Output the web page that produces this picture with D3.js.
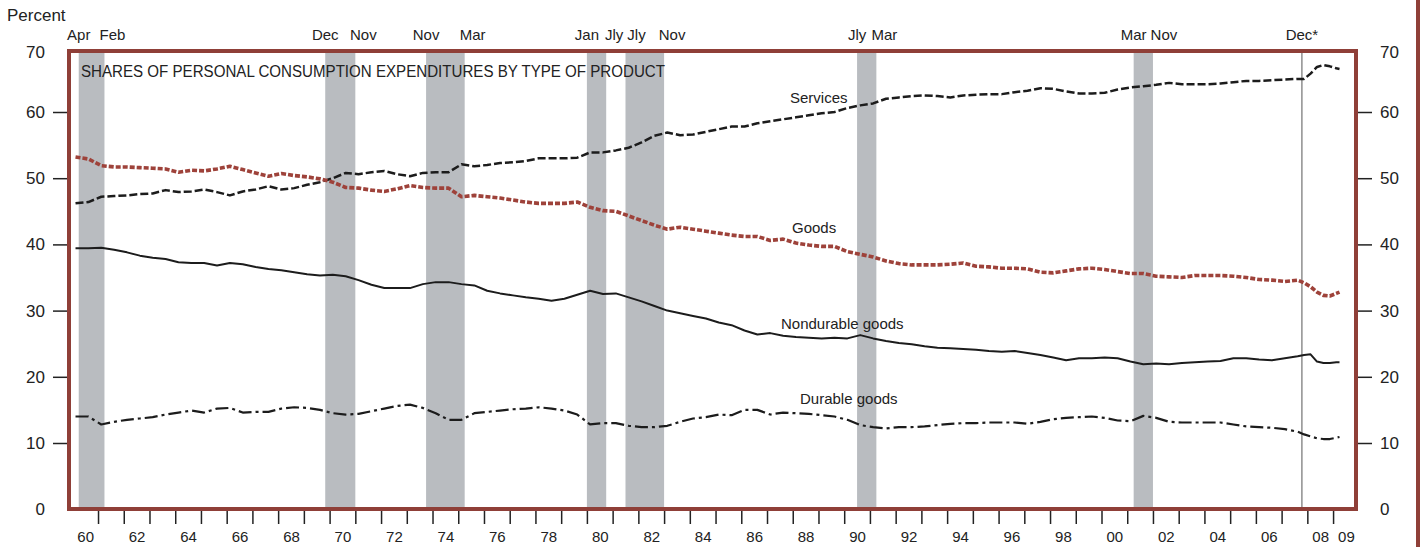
<!DOCTYPE html>
<html>
<head>
<meta charset="utf-8">
<script src="https://cdn.jsdelivr.net/npm/d3@7"></script>
<style>
  body { margin: 0; background: #fff; }
  text { font-family: "Liberation Sans", Arial, sans-serif; fill: #222; }
</style>
</head>
<body>
<script>
// half-year points 1960-2007, then quarterly to 2009
var dates = d3.range(1960.125, 2007.7, 0.5).concat([2007.875, 2008.125, 2008.375, 2008.625, 2008.875, 2009.125, 2009.25]);

var services = [
  46.2, 46.4, 47.2, 47.3, 47.4, 47.6, 47.7, 48.2, 47.9, 48.0,
  48.3, 47.9, 47.4, 48.0, 48.3, 48.8, 48.3, 48.5, 49.0, 49.4,
  50.0, 50.8, 50.6, 50.9, 51.1, 50.6, 50.3, 50.8, 50.9, 50.9,
  52.1, 51.8, 52.0, 52.3, 52.4, 52.6, 53.0, 53.0, 53.0, 53.1,
  53.9, 53.9, 54.2, 54.6, 55.4, 56.4, 56.9, 56.5, 56.6, 57.0,
  57.4, 57.8, 57.8, 58.3, 58.6, 58.9, 59.2, 59.5, 59.8, 60.0,
  60.6, 61.0, 61.3, 62.0, 62.2, 62.4, 62.5, 62.4, 62.2, 62.5,
  62.6, 62.7, 62.7, 63.0, 63.2, 63.6, 63.5, 63.1, 62.8, 62.8,
  62.9, 63.4, 63.7, 63.9, 64.1, 64.4, 64.2, 64.2, 64.2, 64.3,
  64.5, 64.7, 64.7, 64.8, 64.9, 65.0,
  65.0, 65.8, 66.8, 67.1, 66.9, 66.6, 66.5];

var goods = [
  53.2, 52.9, 51.9, 51.7, 51.7, 51.6, 51.5, 51.4, 50.9, 51.2,
  51.1, 51.4, 51.8, 51.3, 50.8, 50.3, 50.7, 50.4, 50.2, 49.9,
  49.4, 48.6, 48.5, 48.2, 48.0, 48.4, 48.9, 48.6, 48.5, 48.5,
  47.2, 47.4, 47.2, 47.0, 46.7, 46.4, 46.2, 46.2, 46.2, 46.4,
  45.6, 45.1, 45.0, 44.3, 43.6, 42.9, 42.3, 42.6, 42.3, 42.0,
  41.7, 41.4, 41.2, 41.2, 40.6, 40.8, 40.2, 39.9, 39.7, 39.7,
  38.9, 38.5, 38.1, 37.5, 37.1, 36.9, 36.9, 36.9, 37.0, 37.2,
  36.7, 36.6, 36.4, 36.4, 36.3, 35.8, 35.7, 36.0, 36.3, 36.4,
  36.2, 35.9, 35.6, 35.6, 35.2, 35.1, 35.0, 35.3, 35.3, 35.3,
  35.2, 35.0, 34.7, 34.6, 34.4, 34.6,
  34.2, 33.6, 32.8, 32.3, 32.2, 32.6, 32.8];

var nondurable = [
  39.4, 39.4, 39.5, 39.2, 38.8, 38.3, 38.0, 37.8, 37.3, 37.2,
  37.2, 36.8, 37.2, 37.0, 36.6, 36.3, 36.1, 35.8, 35.5, 35.3,
  35.4, 35.2, 34.6, 33.9, 33.4, 33.4, 33.4, 34.0, 34.3, 34.3,
  34.0, 33.8, 33.0, 32.6, 32.3, 32.0, 31.8, 31.5, 31.8, 32.4,
  33.0, 32.5, 32.6, 32.0, 31.4, 30.7, 30.0, 29.6, 29.2, 28.8,
  28.2, 27.8, 27.0, 26.4, 26.6, 26.2, 26.0, 25.9, 25.8, 25.9,
  25.8, 26.3, 25.8, 25.4, 25.1, 24.9, 24.6, 24.4, 24.3, 24.2,
  24.1, 23.9, 23.8, 23.9, 23.6, 23.3, 22.9, 22.5, 22.8, 22.8,
  22.9, 22.8, 22.3, 21.9, 22.0, 21.9, 22.1, 22.2, 22.3, 22.4,
  22.8, 22.8, 22.6, 22.5, 22.8, 23.1,
  23.3, 23.4, 22.3, 22.1, 22.1, 22.2, 22.2];

var durable = [
  14.0, 14.0, 12.8, 13.2, 13.5, 13.7, 13.9, 14.3, 14.6, 14.9,
  14.6, 15.2, 15.3, 14.6, 14.7, 14.7, 15.2, 15.4, 15.3, 15.0,
  14.5, 14.3, 14.4, 14.8, 15.2, 15.6, 15.8, 15.3, 14.5, 13.5,
  13.5, 14.5, 14.7, 14.9, 15.1, 15.2, 15.4, 15.2, 14.9, 14.3,
  12.8, 13.0, 13.0, 12.6, 12.4, 12.4, 12.6, 13.2, 13.7, 13.9,
  14.3, 14.2, 15.0, 15.0, 14.3, 14.6, 14.5, 14.4, 14.2, 14.0,
  13.5, 12.7, 12.4, 12.2, 12.4, 12.4, 12.5, 12.7, 12.9, 13.0,
  13.0, 13.1, 13.1, 13.1, 12.9, 13.2, 13.6, 13.8, 13.9, 14.0,
  13.8, 13.4, 13.3, 14.1, 13.8, 13.2, 13.1, 13.1, 13.1, 13.1,
  12.8, 12.5, 12.4, 12.3, 12.1, 11.7,
  11.3, 11.0, 10.7, 10.6, 10.6, 10.8, 10.9];

// recessions (shaded)
var recStart = [1960.25, 1969.83, 1973.75, 1980.0, 1981.5, 1990.5, 2001.25];
var recEnd = [1961.25, 1971.0, 1975.25, 1980.75, 1983.0, 1991.25, 2002.0];
var recStartLabel = ["Apr", "Dec", "Nov", "Jan", "Jly", "Jly", "Mar"];
var recEndLabel = ["Feb", "Nov", "Mar", "Jly", "Nov", "Mar", "Nov"];
var peakDate = 2007.79;

var yTicks = [0, 10, 20, 30, 40, 50, 60, 70];
var xTickYears = d3.range(1961, 2010);
var xLabelYears = [1960, 1962, 1964, 1966, 1968, 1970, 1972, 1974, 1976, 1978, 1980, 1982, 1984,
  1986, 1988, 1990, 1992, 1994, 1996, 1998, 2000, 2002, 2004, 2006, 2008, 2009];

var width = 1427, height = 547;
var frame = { left: 69, right: 1356, top: 51, bottom: 509 };
var brown = "#8f3f38";

var x = d3.scaleLinear().domain([1960, 2010]).range([72.3, 1358.8]);
var y = d3.scaleLinear().domain([0, 70]).range([509.2, 45.8]);

var svg = d3.select("body").append("svg").attr("width", width).attr("height", height);

// recession bars
var bars = svg.append("g");
var monthLabels = [];
recStart.forEach(function (s, i) {
  bars.append("rect")
    .attr("x", x(s)).attr("y", frame.top)
    .attr("width", x(recEnd[i]) - x(s)).attr("height", frame.bottom - frame.top)
    .attr("fill", "#b9bcc0");
  monthLabels.push({ t: recStartLabel[i], cx: x(s) });
  monthLabels.push({ t: recEndLabel[i], cx: x(recEnd[i]) + 8 });
});

// month labels: centred on the bar edge, then pushed apart left to right
var ml = bars.selectAll(".ml").data(monthLabels).enter().append("text")
  .attr("y", 40).style("font-size", "15px").text(function (d) { return d.t; });
var lastRight = -Infinity;
ml.each(function (d) {
  var w = this.getComputedTextLength();
  var left = Math.max(d.cx - w / 2, lastRight + 4);
  d3.select(this).attr("x", left);
  lastRight = left + w;
});

svg.append("line")
  .attr("x1", x(peakDate)).attr("x2", x(peakDate))
  .attr("y1", frame.top).attr("y2", frame.bottom)
  .attr("stroke", "#555").attr("stroke-width", 1);
svg.append("text").attr("x", x(peakDate)).attr("y", 40)
  .attr("text-anchor", "middle").style("font-size", "15px").text("Dec*");

// series
var line = d3.line()
  .x(function (d, i) { return x(dates[i]); })
  .y(function (d) { return y(d); });

var series = [
  { v: services, color: "#1c1c1c", w: 2.5, dash: "8,3" },
  { v: goods, color: "#9e423a", w: 3.6, dash: "5,2" },
  { v: nondurable, color: "#1c1c1c", w: 2, dash: null },
  { v: durable, color: "#1c1c1c", w: 2.2, dash: "13,4,3,4" }
];
series.forEach(function (s) {
  svg.append("path").attr("d", line(s.v))
    .attr("fill", "none").attr("stroke", s.color)
    .attr("stroke-width", s.w).attr("stroke-linejoin", "round")
    .attr("stroke-dasharray", s.dash);
});

// series labels
var labels = [
  { t: "Services", x: 790, y: 103 },
  { t: "Goods", x: 792, y: 233 },
  { t: "Nondurable goods", x: 781, y: 329 },
  { t: "Durable goods", x: 800, y: 404 }
];
svg.selectAll(".slab").data(labels).enter().append("text")
  .attr("x", function (d) { return d.x; }).attr("y", function (d) { return d.y; })
  .style("font-size", "15px").text(function (d) { return d.t; });

svg.append("text").attr("x", 81).attr("y", 77)
  .attr("textLength", 584).attr("lengthAdjust", "spacingAndGlyphs")
  .style("font-size", "16px")
  .text("SHARES OF PERSONAL CONSUMPTION EXPENDITURES BY TYPE OF PRODUCT");

// frame
svg.append("rect")
  .attr("x", frame.left).attr("y", frame.top)
  .attr("width", frame.right - frame.left).attr("height", frame.bottom - frame.top)
  .attr("fill", "none").attr("stroke", brown).attr("stroke-width", 4);
svg.append("line").attr("x1", 1418).attr("x2", 1418).attr("y1", 0).attr("y2", height)
  .attr("stroke", brown).attr("stroke-width", 4);

// y axes
function styleAxis(g) {
  g.select(".domain").remove();
  g.selectAll(".tick line").attr("stroke", "#222").attr("stroke-width", 1.5);
  g.selectAll(".tick text").style("font-size", "17px").attr("fill", "#222");
  g.selectAll(".tick").filter(function (d) { return d === 0 || d === 70; })
    .select("line").remove();
  g.selectAll(".tick").filter(function (d) { return d === 70; })
    .select("text").attr("dy", "0.7em");
}

var yAxisL = d3.axisLeft(y).tickValues(yTicks).tickSize(14).tickPadding(8);
svg.append("g").attr("transform", "translate(" + (frame.left - 2) + ",0)")
  .call(yAxisL).call(styleAxis);

var yAxisR = d3.axisRight(y).tickValues(yTicks).tickSize(14).tickPadding(8);
svg.append("g").attr("transform", "translate(" + (frame.right + 2) + ",0)")
  .call(yAxisR).call(styleAxis);

// x axis ticks (year starts) and labels (mid-year)
var xTicks = d3.axisBottom(x).tickValues(xTickYears).tickSize(13).tickFormat("");
svg.append("g").attr("transform", "translate(0," + (frame.bottom + 2) + ")")
  .call(xTicks)
  .call(function (g) {
    g.select(".domain").remove();
    g.selectAll(".tick line").attr("stroke", "#222").attr("stroke-width", 1.5);
  });

var xLabels = d3.axisBottom(x)
  .tickValues(xLabelYears.map(function (d) { return d + 0.5; }))
  .tickSize(0).tickPadding(0)
  .tickFormat(function (d) { return String(Math.floor(d)).slice(2); });
svg.append("g").attr("transform", "translate(0,531)")
  .call(xLabels)
  .call(function (g) {
    g.select(".domain").remove();
    g.selectAll(".tick text").style("font-size", "15px").attr("fill", "#222");
  });

svg.append("text").attr("x", 7).attr("y", 21).style("font-size", "17px").text("Percent");
</script>
</body>
</html>
